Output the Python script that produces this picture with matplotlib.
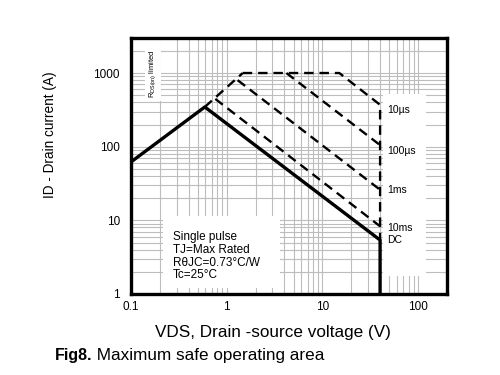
import matplotlib
matplotlib.use("Agg")
import matplotlib.pyplot as plt
from matplotlib.ticker import LogLocator, FixedLocator, FixedFormatter, NullFormatter
from matplotlib.patches import Rectangle

plt.rcParams['font.family'] = ['Liberation Sans', 'DejaVu Sans']

# DC limit (solid): Rds(on) rise, power limit, Vds max
dc_v = [0.1, 0.59, 40, 40]
dc_i = [62, 346, 5.4, 1]
# Rds(on) extension (dashed) and pulse limits
rds_v = [0.59, 1.47]
rds_i = [346, 1000]
p10us_v = [1.47, 15, 40, 40]
p10us_i = [1000, 1000, 370, 5.4]
p100us_v = [4.2, 40]
p100us_i = [1000, 105]
p1ms_v = [1.3, 40]
p1ms_i = [800, 26]
p10ms_v = [0.76, 40]
p10ms_i = [445, 8.3]

pulse_labels = ["10µs", "100µs", "1ms", "10ms", "DC"]
pulse_ends = [370, 105, 26, 8.3, 5.4]
label_dy = [-4, -4, 0, -1, 0]

xticks = [0.1, 1, 10, 100]
xticklabels = ["0.1", "1", "10", "100"]
yticks = [1, 10, 100, 1000]
yticklabels = ["1", "10", "100", "1000"]

fig = plt.figure(figsize=(5, 3.75), dpi=100)
ax = fig.add_axes([0.262, 0.216, 0.632, 0.683])
ax.set_xscale('log')
ax.set_yscale('log')
ax.set_xlim(0.1, 200)
ax.set_ylim(1, 3000)

ax.xaxis.set_major_locator(FixedLocator(xticks))
ax.xaxis.set_major_formatter(FixedFormatter(xticklabels))
ax.yaxis.set_major_locator(FixedLocator(yticks))
ax.yaxis.set_major_formatter(FixedFormatter(yticklabels))
ax.xaxis.set_minor_locator(LogLocator(base=10, subs=range(2, 10)))
ax.yaxis.set_minor_locator(LogLocator(base=10, subs=range(2, 10)))
ax.xaxis.set_minor_formatter(NullFormatter())
ax.yaxis.set_minor_formatter(NullFormatter())
ax.tick_params(which='both', length=0, labelsize=8.5)
ax.tick_params(axis='y', pad=8)
ax.tick_params(axis='x', pad=5)
ax.grid(True, which='both', color='#bdbdbd', linewidth=0.8)
ax.set_axisbelow(True)
for s in ax.spines.values():
    s.set_linewidth(2.4)

dash = (0, (4, 2.5))
kw = dict(color='black', linewidth=1.7, linestyle=dash, zorder=2)
ax.plot(rds_v, rds_i, **kw)
ax.plot(p10us_v, p10us_i, **kw)
ax.plot(p100us_v, p100us_i, **kw)
ax.plot(p1ms_v, p1ms_i, **kw)
ax.plot(p10ms_v, p10ms_i, **kw)
ax.plot(dc_v, dc_i, color='black', linewidth=2.4, zorder=3)

# white label panels
ax.add_patch(Rectangle((0.797, 0.07), 0.135, 0.71, transform=ax.transAxes,
                       facecolor='white', edgecolor='none', zorder=1))
ax.add_patch(Rectangle((0.1, 0.025), 0.37, 0.28, transform=ax.transAxes,
                       facecolor='white', edgecolor='none', zorder=1))
ax.add_patch(Rectangle((0.044, 0.755), 0.052, 0.245, transform=ax.transAxes,
                       facecolor='white', edgecolor='none', zorder=1))

for lab, yv, dy in zip(pulse_labels, pulse_ends, label_dy):
    ax.annotate(lab, xy=(40, yv), xytext=(5, dy), textcoords='offset points',
                fontsize=7.5, va='center', ha='left', zorder=4)

ax.text(0.133, 0.245, "Single pulse\nTJ=Max Rated\nRθJC=0.73°C/W\nTc=25°C",
        transform=ax.transAxes, fontsize=8.5, va='top', ha='left',
        linespacing=1.08, zorder=4)
ax.text(0.07, 0.955, r"R$_{\mathregular{DS(on)}}$ limited", transform=ax.transAxes,
        fontsize=5.5, rotation=90, va='top', ha='center', zorder=4)

fig.text(0.545, 0.112, "VDS, Drain -source voltage (V)", fontsize=12.3,
         ha='center', va='center')
fig.text(0.1, 0.64, "ID - Drain current (A)", fontsize=9.8, rotation=90,
         ha='center', va='center')
t = fig.text(0.11, 0.053, "Fig8.", fontsize=11.5, fontweight='bold',
             ha='left', va='center')
ax.annotate(" Maximum safe operating area", xy=(1, 0.5), xycoords=t,
            xytext=(0, 0), textcoords='offset points',
            fontsize=12.3, ha='left', va='center', annotation_clip=False)
fig.savefig("out.png", dpi=100)
